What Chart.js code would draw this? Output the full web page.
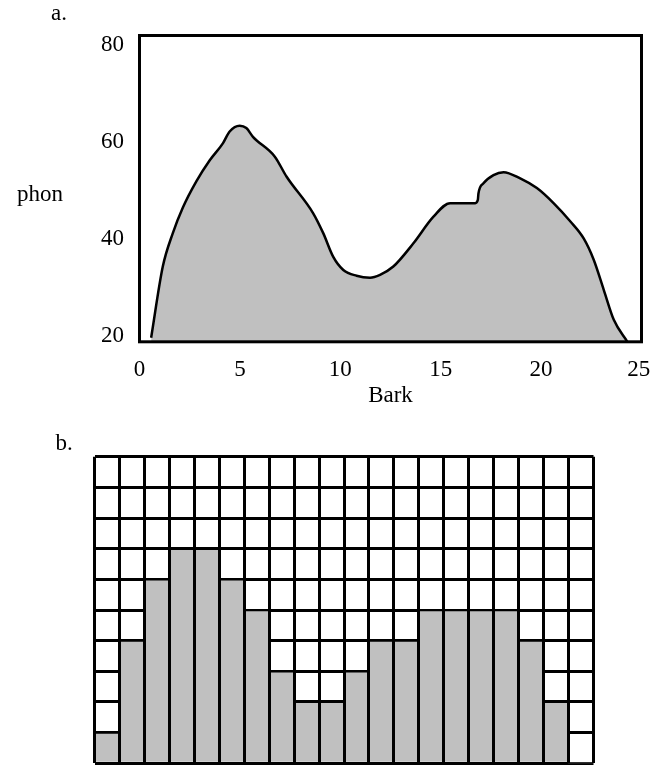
<!DOCTYPE html>
<html>
<head>
<meta charset="utf-8">
<script src="https://cdn.jsdelivr.net/npm/chart.js@4.4.0/dist/chart.umd.min.js"></script>
<style>
  html, body { margin: 0; padding: 0; background: #fff; }
  body { width: 651px; height: 765px; position: relative; overflow: hidden; }
  .panel { position: absolute; left: 0; width: 651px; }
  #panelA { top: 0; height: 420px; }
  #panelB { top: 420px; height: 345px; }
</style>
</head>
<body>
<div class="panel" id="panelA"><canvas id="chartA" width="651" height="420"></canvas></div>
<div class="panel" id="panelB"><canvas id="chartB" width="651" height="345"></canvas></div>
<script>
// a. loudness pattern (Bark vs phon)
const bark = [0.58, 1.16, 1.66, 2.16, 2.83, 3.49, 4.16, 4.49, 4.99, 5.32, 5.65, 6.74, 7.32,
  8.65, 9.15, 9.65, 10.15, 10.81, 11.48, 11.98, 12.64, 13.64, 14.64, 15.47, 16.72, 16.85,
  16.88, 17.13, 17.63, 18.13, 18.96, 19.79, 20.62, 21.46, 22.12, 22.62, 23.12, 23.62, 24.29];
const phon = [19.6, 34.3, 41.2, 46.5, 51.9, 56.2, 59.8, 62.2, 63.4, 62.9, 61.1, 57.0, 52.9,
  45.3, 41.2, 36.3, 33.6, 32.4, 32.0, 32.6, 34.3, 39.1, 44.6, 47.4, 47.4, 48.1,
  49.4, 51.5, 53.2, 53.8, 52.5, 50.5, 47.4, 43.6, 40.1, 35.7, 29.5, 23.3, 18.8];
const barkTicks = [0, 5, 10, 15, 20, 25];
const phonTicks = [20, 40, 60, 80];

// b. band levels (grid cells filled per band)
const bands = ['1', '2', '3', '4', '5', '6', '7', '8', '9', '10',
  '11', '12', '13', '14', '15', '16', '17', '18', '19', '20'];
const bandLevels = [1, 4, 6, 7, 7, 6, 5, 3, 2, 2, 3, 4, 4, 5, 5, 5, 5, 4, 2, 0];

const serif = { family: 'Liberation Serif', size: 23 };

// black box round the plot area
const frame = {
  id: 'frame',
  afterDatasetsDraw(chart) {
    const { ctx, chartArea: a } = chart;
    ctx.save();
    ctx.lineWidth = 3;
    ctx.strokeStyle = '#000';
    ctx.strokeRect(a.left, a.top, a.right - a.left, a.bottom - a.top);
    ctx.restore();
  }
};

// loose labels (a., b., phon)
const panelText = {
  id: 'panelText',
  afterDraw(chart, args, opts) {
    const ctx = chart.ctx;
    ctx.save();
    ctx.fillStyle = '#000';
    ctx.font = serif.size + 'px "' + serif.family + '"';
    ctx.textAlign = 'center';
    ctx.textBaseline = 'alphabetic';
    opts.items.forEach(t => ctx.fillText(t.text, t.x, t.y));
    ctx.restore();
  }
};

new Chart(document.getElementById('chartA'), {
  type: 'line',
  data: {
    datasets: [{
      data: bark.map((x, i) => ({ x: x, y: phon[i] })),
      borderColor: '#000',
      borderWidth: 2.5,
      backgroundColor: '#c0c0c0',
      fill: 'start',
      pointRadius: 0,
      cubicInterpolationMode: 'monotone'
    }]
  },
  options: {
    responsive: false,
    animation: false,
    events: [],
    layout: { padding: { left: 0, top: 35.5, right: 9.5, bottom: 0 } },
    plugins: {
      legend: { display: false },
      tooltip: { enabled: false },
      panelText: { items: [{ text: 'a.', x: 59, y: 20 }, { text: 'phon', x: 40, y: 201 }] }
    },
    scales: {
      x: {
        type: 'linear', min: 0, max: 25,
        grid: { display: false, drawTicks: false },
        border: { display: false },
        ticks: {
          color: '#000', font: serif, padding: 14.4,
          // last label sits a touch inside the right edge
          callback: v => (v === 25 ? v + '\u2008' : String(v))
        },
        title: { display: true, text: 'Bark', color: '#000', font: serif, padding: { top: 0, bottom: 10.2 } },
        afterBuildTicks: axis => { axis.ticks = barkTicks.map(v => ({ value: v })); },
        afterFit: axis => { axis.height = 78.2; axis.paddingLeft = 0; axis.paddingRight = 0; }
      },
      y: {
        min: 18.76, max: 82.02,
        grid: { display: false, drawTicks: false },
        border: { display: false },
        ticks: { color: '#000', font: serif, padding: 15.5 },
        afterBuildTicks: axis => { axis.ticks = phonTicks.map(v => ({ value: v })); },
        afterFit: axis => { axis.width = 139.5; axis.paddingTop = 0; axis.paddingBottom = 0; }
      }
    }
  },
  plugins: [frame, panelText]
});

new Chart(document.getElementById('chartB'), {
  type: 'bar',
  data: {
    labels: bands,
    datasets: [{
      data: bandLevels,
      backgroundColor: '#c0c0c0',
      borderColor: '#000',
      borderWidth: { top: 1.5, right: 0, bottom: 0, left: 0 },
      borderSkipped: false,
      categoryPercentage: 1,
      barPercentage: 1
    }]
  },
  options: {
    responsive: false,
    animation: false,
    events: [],
    layout: { padding: { left: 94.5, top: 36.8, right: 57.5, bottom: 1.8 } },
    plugins: {
      legend: { display: false },
      tooltip: { enabled: false },
      panelText: { items: [{ text: 'b.', x: 64, y: 30 }] }
    },
    scales: {
      x: {
        grid: { color: '#000', lineWidth: 3, drawTicks: false, offset: true, z: 1 },
        border: { display: false },
        ticks: { display: false },
        afterFit: axis => { axis.height = 0; axis.paddingLeft = 0; axis.paddingRight = 0; }
      },
      y: {
        min: 0, max: 10,
        grid: { color: '#000', lineWidth: 3, drawTicks: false },
        border: { display: false },
        ticks: { display: false, stepSize: 1 },
        afterFit: axis => { axis.width = 0; axis.paddingTop = 0; axis.paddingBottom = 0; }
      }
    }
  },
  plugins: [panelText]
});
</script>
</body>
</html>
